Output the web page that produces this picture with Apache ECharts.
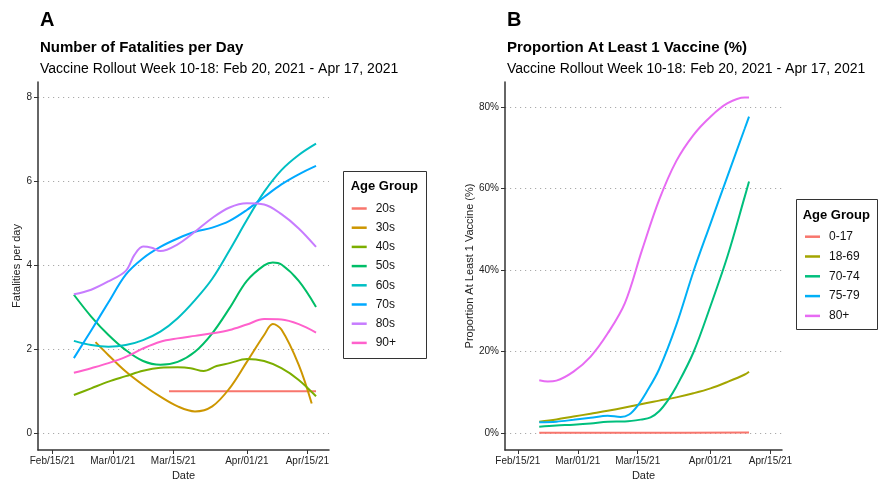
<!DOCTYPE html>
<html>
<head>
<meta charset="utf-8">
<script src="https://cdn.jsdelivr.net/npm/echarts@6/dist/echarts.min.js"></script>
<style>
html,body{margin:0;padding:0;background:#fff;}
#chart{width:882px;height:479px;}
</style>
</head>
<body>
<div id="chart"></div>
<script>
// ---------- data ----------
const ageGroupsA = ['20s','30s','40s','50s','60s','70s','80s','90+'];
const ageGroupsB = ['0-17','18-69','70-74','75-79','80+'];
const colorsA = ['#F8766D','#CD9600','#7CAE00','#00BE67','#00BFC4','#00A9FF','#C77CFF','#FF61CC'];
const colorsB = ['#F8766D','#A3A500','#00BF7D','#00B0F6','#E76BF3'];

const xTickDates  = ['2/15','3/1','3/15','4/1','4/15'];
const xTickLabels = ['Feb/15/21','Mar/01/21','Mar/15/21','Apr/01/21','Apr/15/21'];
const yTicksA = [0,2,4,6,8];
const yTicksB = [0,20,40,60,80];

// Panel A: fatalities per day (smoothed) — [month/day 2021, value]
const fat20s = [['3/14',1.0],['4/17',1.0]];
const fat30s = [['2/25',2.17],['2/28',1.86],['3/4',1.47],['3/8',1.15],['3/12',0.87],['3/16',0.64],['3/20',0.52],['3/24',0.64],['3/28',1.07],['4/1',1.70],['4/5',2.34],['4/7',2.60],['4/9',2.47],['4/13',1.63],['4/16',0.71]];
const fat40s = [['2/20',0.91],['2/24',1.07],['2/28',1.23],['3/4',1.36],['3/8',1.49],['3/12',1.56],['3/16',1.57],['3/19',1.55],['3/22',1.48],['3/25',1.60],['3/28',1.67],['4/1',1.77],['4/5',1.72],['4/9',1.55],['4/13',1.27],['4/17',0.88]];
const fat50s = [['2/20',3.30],['2/24',2.78],['2/28',2.34],['3/4',1.98],['3/8',1.72],['3/12',1.63],['3/16',1.70],['3/20',1.94],['3/24',2.38],['3/28',2.98],['4/1',3.63],['4/5',4.00],['4/7',4.07],['4/9',4.02],['4/13',3.63],['4/17',3.01]];
const fat60s = [['2/20',2.20],['2/24',2.10],['2/28',2.06],['3/4',2.10],['3/8',2.22],['3/12',2.42],['3/16',2.74],['3/20',3.17],['3/24',3.68],['3/28',4.36],['4/1',5.08],['4/5',5.75],['4/9',6.27],['4/13',6.63],['4/17',6.90]];
const fat70s = [['2/20',1.79],['2/24',2.45],['2/28',3.12],['3/4',3.78],['3/8',4.17],['3/12',4.44],['3/16',4.64],['3/20',4.80],['3/24',4.90],['3/28',5.06],['4/1',5.32],['4/5',5.63],['4/9',5.93],['4/13',6.17],['4/17',6.37]];
const fat80s = [['2/20',3.31],['2/24',3.42],['2/28',3.62],['3/4',3.87],['3/6',4.25],['3/8',4.45],['3/10',4.42],['3/12',4.34],['3/16',4.50],['3/20',4.80],['3/24',5.13],['3/28',5.38],['4/1',5.48],['4/5',5.45],['4/9',5.22],['4/13',4.88],['4/17',4.44]];
const fat90p = [['2/20',1.44],['2/24',1.55],['2/28',1.67],['3/4',1.82],['3/8',2.02],['3/12',2.18],['3/16',2.26],['3/20',2.32],['3/24',2.38],['3/28',2.46],['4/1',2.59],['4/5',2.72],['4/9',2.71],['4/13',2.60],['4/17',2.40]];

// Panel B: proportion with at least 1 vaccine (%)
const vac0_17  = [['2/20',0.1],['3/16',0.1],['4/10',0.2]];
const vac18_69 = [['2/20',2.85],['2/24',3.4],['2/28',4.1],['3/4',4.8],['3/8',5.5],['3/12',6.3],['3/16',7.2],['3/20',8.0],['3/24',8.8],['3/28',9.8],['4/1',11.0],['4/5',12.6],['4/9',14.4],['4/10',15.1]];
const vac70_74 = [['2/20',1.6],['2/24',1.9],['2/28',2.1],['3/4',2.4],['3/8',2.85],['3/12',2.9],['3/16',3.4],['3/18',3.9],['3/20',5.4],['3/22',8.0],['3/24',11.4],['3/28',19.8],['4/1',31.2],['4/5',43.5],['4/9',58.0],['4/10',61.7]];
const vac75_79 = [['2/20',2.7],['2/24',2.85],['2/28',3.3],['3/4',3.8],['3/8',4.3],['3/11',4.0],['3/13',4.6],['3/15',6.8],['3/17',10.0],['3/20',15.7],['3/24',26.5],['3/28',39.6],['4/1',51.4],['4/5',63.1],['4/9',74.7],['4/10',77.6]];
const vac80p   = [['2/20',13.0],['2/22',12.7],['2/24',12.9],['2/28',15.1],['3/4',18.8],['3/8',24.5],['3/12',31.9],['3/16',44.9],['3/20',57.2],['3/24',66.7],['3/28',73.1],['4/1',77.6],['4/5',80.9],['4/9',82.3],['4/10',82.3]];

const seriesA = [fat20s,fat30s,fat40s,fat50s,fat60s,fat70s,fat80s,fat90p];
const seriesB = [vac0_17,vac18_69,vac70_74,vac75_79,vac80p];

// ---------- helpers ----------
const START = Date.UTC(2021,1,15);
function dayNum(md){ const p = md.split('/').map(Number); return (Date.UTC(2021,p[0]-1,p[1]) - START)/864e5; }
const xTickDays = xTickDates.map(dayNum);
const FONT = 'Liberation Sans, Arial, Helvetica, sans-serif';
const AX = '#333';

function xAxisCfg(gi, min, max){
  return {
    type:'value', gridIndex:gi, min:min, max:max,
    name:'Date', nameLocation:'middle', nameGap:17,
    nameTextStyle:{fontFamily:FONT,fontSize:11,color:'#222'},
    axisLine:{show:true,onZero:false,lineStyle:{color:AX,width:1.5}},
    axisTick:{show:true,length:4,customValues:xTickDays,lineStyle:{color:AX}},
    axisLabel:{customValues:xTickDays,margin:6,fontFamily:FONT,fontSize:10,color:'#222',
      formatter:v=>{const i=xTickDays.indexOf(v);return i>=0?xTickLabels[i]:'';}},
    splitLine:{show:false}
  };
}
function yAxisCfg(gi, min, max, ticks, name, gap, fmt){
  return {
    type:'value', gridIndex:gi, min:min, max:max,
    name:name, nameLocation:'middle', nameRotate:90, nameGap:gap,
    nameTextStyle:{fontFamily:FONT,fontSize:11,color:'#222'},
    axisLine:{show:true,onZero:false,lineStyle:{color:AX,width:1.5}},
    axisTick:{show:true,length:4,customValues:ticks,lineStyle:{color:AX}},
    axisLabel:{customValues:ticks,margin:6,fontFamily:FONT,fontSize:10,color:'#222',formatter:fmt},
    splitLine:{show:true,lineStyle:{color:'#aaa',width:1,type:[1.2,3.8]}}
  };
}

const series = [];
seriesA.forEach((d,i)=>series.push({
  name:ageGroupsA[i], type:'line', xAxisIndex:0, yAxisIndex:0,
  data:d.map(p=>[dayNum(p[0]),p[1]]), smooth:0.35, showSymbol:false,
  lineStyle:{width:2,color:colorsA[i]}, itemStyle:{color:colorsA[i]}
}));
seriesB.forEach((d,i)=>series.push({
  name:ageGroupsB[i], type:'line', xAxisIndex:1, yAxisIndex:1,
  data:d.map(p=>[dayNum(p[0]),p[1]]), smooth:0.35, showSymbol:false,
  lineStyle:{width:2,color:colorsB[i]}, itemStyle:{color:colorsB[i]}
}));

function txt(x,y,text,size,weight){
  return {type:'text',x:x,y:y,silent:true,style:{text:text,fontFamily:FONT,fontSize:size,fontWeight:weight||'normal',fill:'#000',verticalAlign:'middle',align:'left'}};
}
function box(x,y,w,h){
  return {type:'rect',shape:{x:x,y:y,width:w,height:h},silent:true,style:{fill:'#fff',stroke:'#333',lineWidth:1}};
}

const legendCommon = {
  orient:'vertical', icon:'rect', itemWidth:15, itemHeight:2.5, padding:0,
  textStyle:{fontFamily:FONT,fontSize:12,color:'#111',lineHeight:19,padding:[0,0,0,4]},
  selectedMode:false
};

const chart = echarts.init(document.getElementById('chart'),null,{renderer:'canvas'});
chart.setOption({
  animation:false,
  backgroundColor:'#fff',
  grid:[
    {left:38, top:82, width:291, height:368, outerBoundsMode:'none', containLabel:false},
    {left:505, top:82, width:277, height:368, outerBoundsMode:'none', containLabel:false}
  ],
  xAxis:[ xAxisCfg(0,-3.3,64), xAxisCfg(1,-3,61.7) ],
  yAxis:[
    yAxisCfg(0,-0.4,8.37,yTicksA,'Fatalities per day',15,v=>String(v)),
    yAxisCfg(1,-4.1,86.1,yTicksB,'Proportion At Least 1 Vaccine (%)',29,v=>v+'%')
  ],
  legend:[
    Object.assign({},legendCommon,{data:ageGroupsA,left:351.7,top:199,itemGap:0.2}),
    Object.assign({},legendCommon,{data:ageGroupsB,left:805,top:227.2,itemGap:0.8})
  ],
  graphic:{elements:[
    box(343.5,171.5,83,187),
    box(796.5,199.5,81,130),
    txt(40,20,'A',20,'bold'),
    txt(40,47.5,'Number of Fatalities per Day',15,'bold'),
    txt(40,69,'Vaccine Rollout Week 10-18: Feb 20, 2021 - Apr 17, 2021',14),
    txt(507,20,'B',20,'bold'),
    txt(507,47.5,'Proportion At Least 1 Vaccine (%)',15,'bold'),
    txt(507,69,'Vaccine Rollout Week 10-18: Feb 20, 2021 - Apr 17, 2021',14),
    txt(350.7,186,'Age Group',13,'bold'),
    txt(802.7,215.5,'Age Group',13,'bold')
  ]},
  series:series
});
</script>
</body>
</html>
